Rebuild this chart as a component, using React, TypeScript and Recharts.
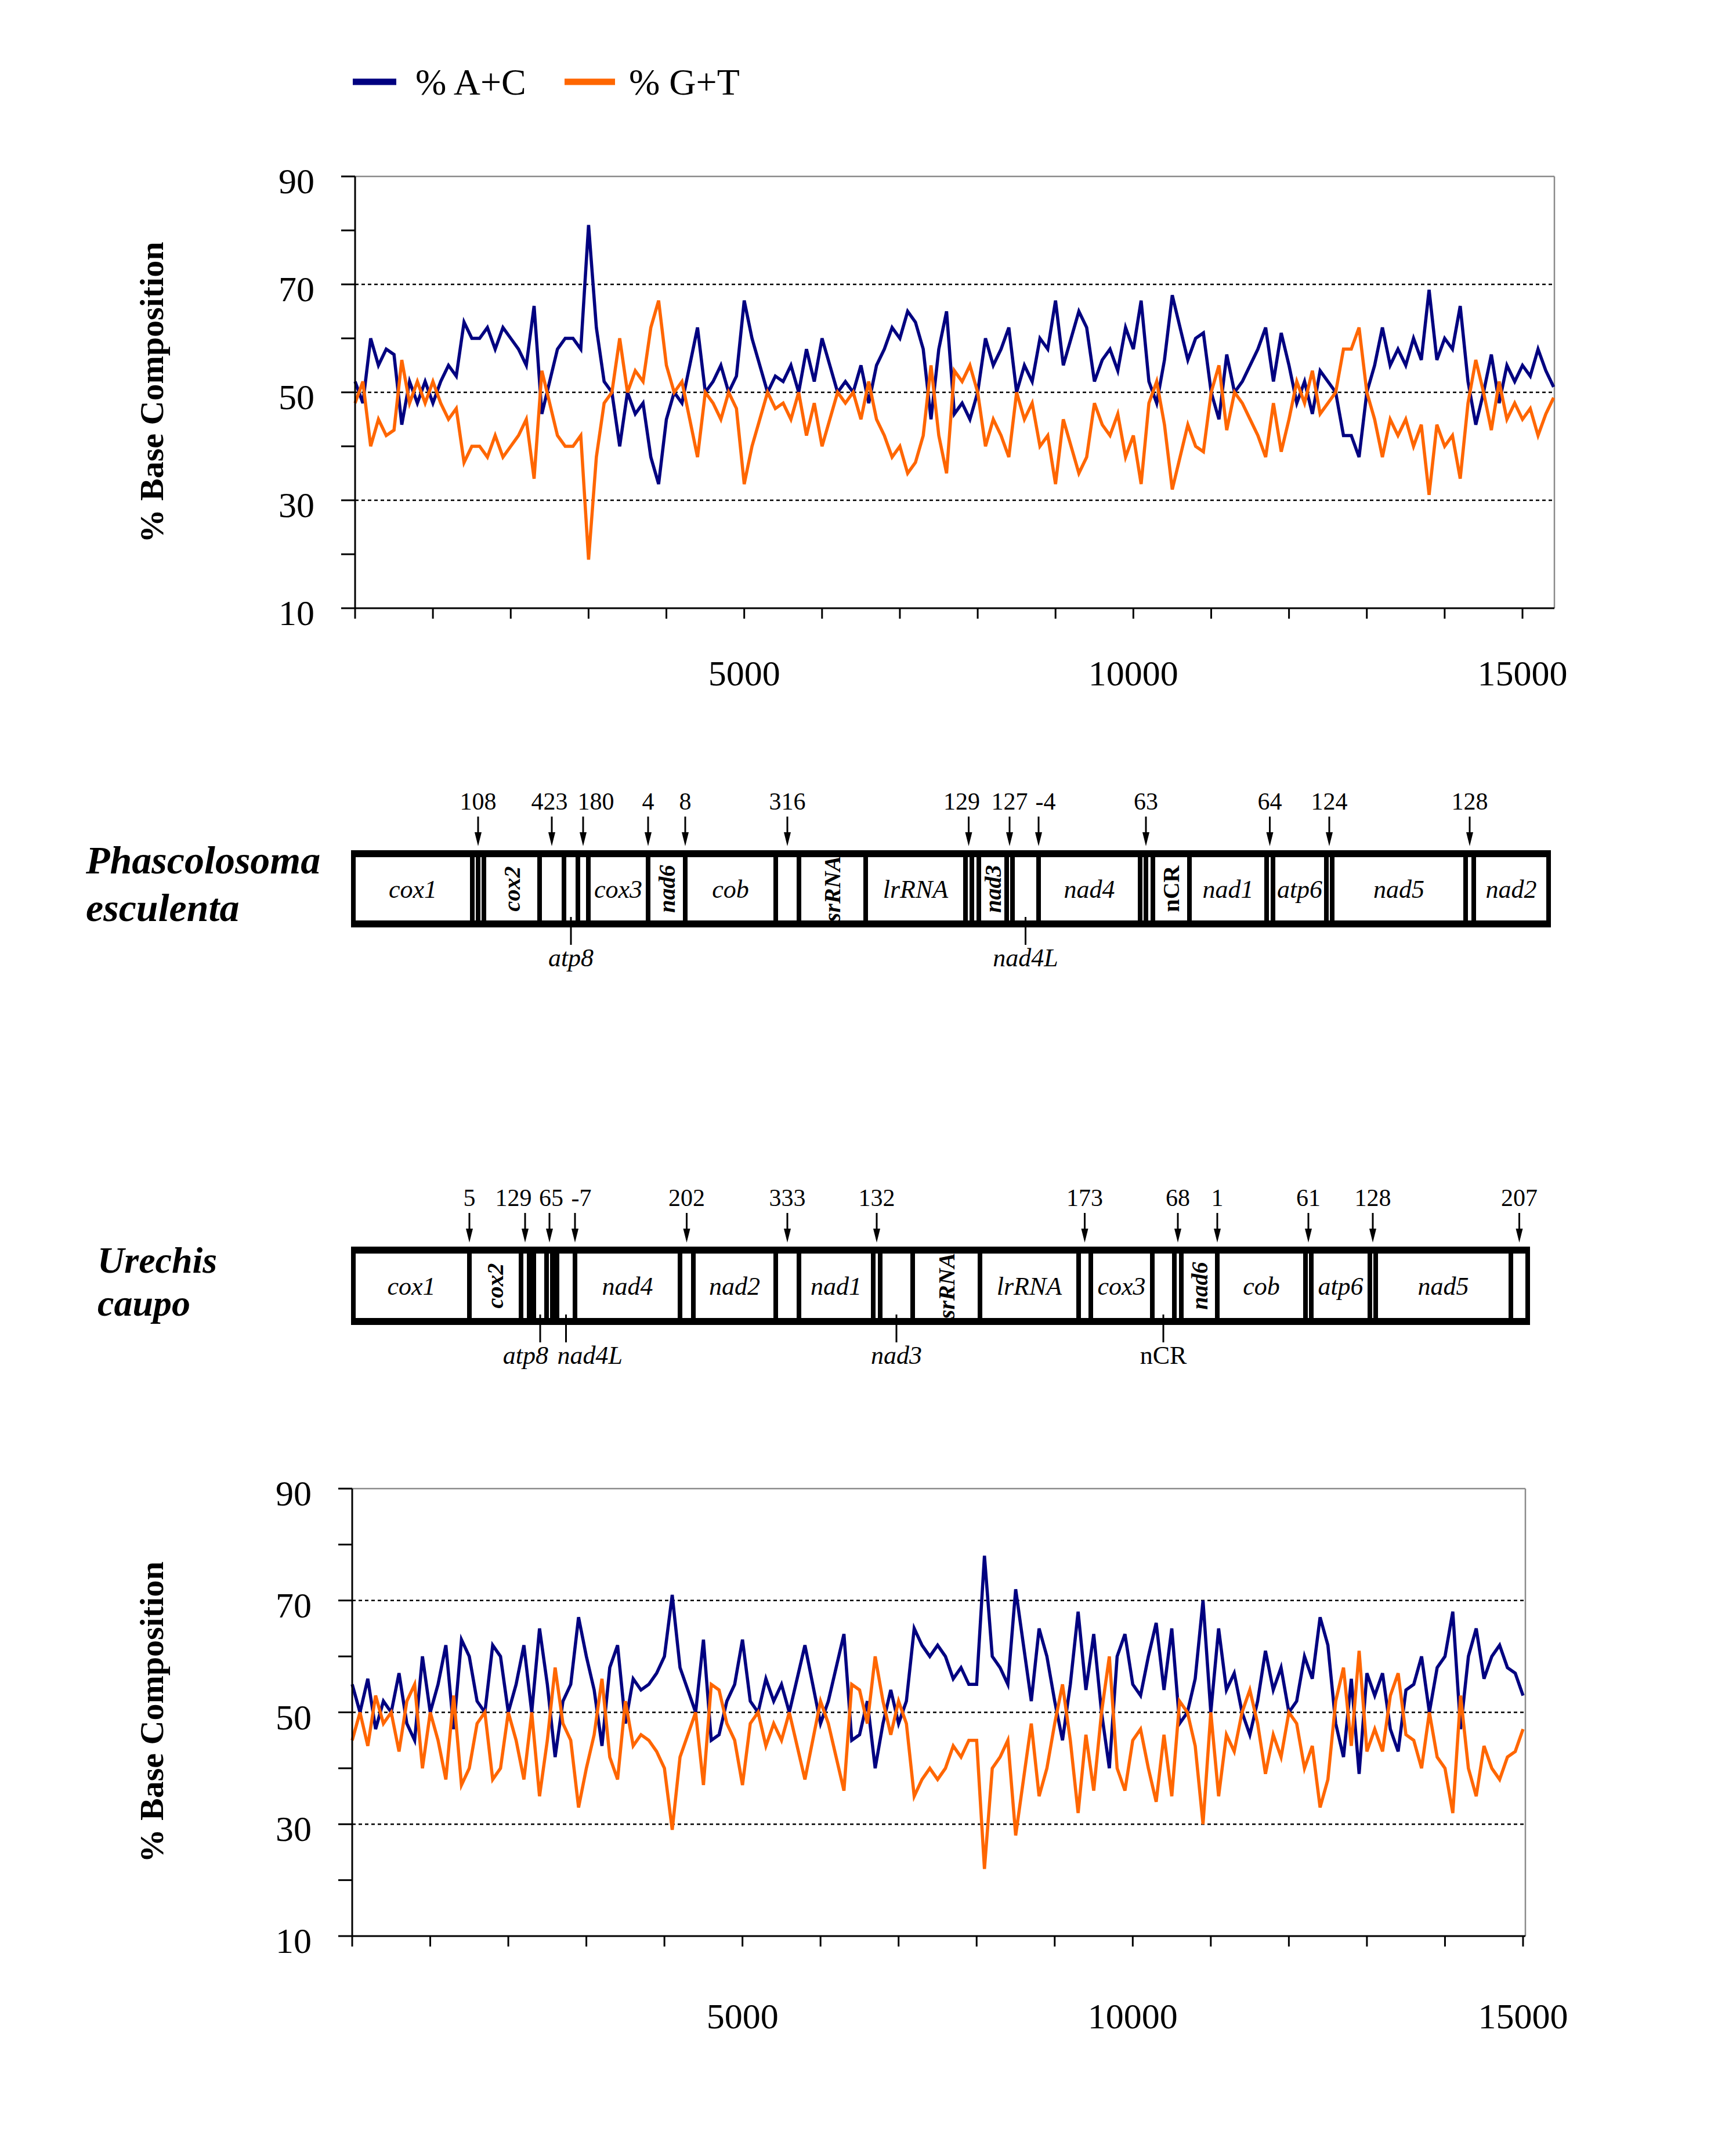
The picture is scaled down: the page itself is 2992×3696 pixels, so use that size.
import { LineChart, Line, XAxis, YAxis, ReferenceLine, BarChart, Bar } from 'recharts';

document.body.style.margin = '0';

const SERIF = "'Liberation Serif', 'Times New Roman', Times, serif";
const AC_COLOR = '#000080';
const GT_COLOR = '#ff6600';

// sliding window composition, one value every STEP bp
const STEP = 100;

// Phascolosoma esculenta (top plot)
const PE_AC = [
  52, 48, 60, 55, 58, 57, 44, 52, 48, 52,
  48, 52, 55, 53, 63, 60, 60, 62, 58, 62,
  60, 58, 55, 66, 46, 52, 58, 60, 60, 58,
  81, 62, 52, 50, 40, 50, 46, 48, 38, 33,
  45, 50, 48, 55, 62, 50, 52, 55, 50, 53,
  67, 60, 55, 50, 53, 52, 55, 50, 58, 52,
  60, 55, 50, 52, 50, 55, 48, 55, 58, 62,
  60, 65, 63, 58, 45, 58, 65, 46, 48, 45,
  50, 60, 55, 58, 62, 50, 55, 52, 60, 58,
  67, 55, 60, 65, 62, 52, 56, 58, 54, 62,
  58, 67, 52, 48, 56, 68, 62, 56, 60, 61,
  50, 45, 57, 50, 52, 55, 58, 62, 52, 61,
  55, 48, 52, 46, 54, 52, 50, 42, 42, 38,
  50, 55, 62, 55, 58, 55, 60, 56, 69, 56,
  60, 58, 66, 52, 44, 50, 57, 48, 55, 52,
  55, 53, 58, 54, 51,
];
const PE_GT = [
  48, 52, 40, 45, 42, 43, 56, 48, 52, 48,
  52, 48, 45, 47, 37, 40, 40, 38, 42, 38,
  40, 42, 45, 34, 54, 48, 42, 40, 40, 42,
  19, 38, 48, 50, 60, 50, 54, 52, 62, 67,
  55, 50, 52, 45, 38, 50, 48, 45, 50, 47,
  33, 40, 45, 50, 47, 48, 45, 50, 42, 48,
  40, 45, 50, 48, 50, 45, 52, 45, 42, 38,
  40, 35, 37, 42, 55, 42, 35, 54, 52, 55,
  50, 40, 45, 42, 38, 50, 45, 48, 40, 42,
  33, 45, 40, 35, 38, 48, 44, 42, 46, 38,
  42, 33, 48, 52, 44, 32, 38, 44, 40, 39,
  50, 55, 43, 50, 48, 45, 42, 38, 48, 39,
  45, 52, 48, 54, 46, 48, 50, 58, 58, 62,
  50, 45, 38, 45, 42, 45, 40, 44, 31, 44,
  40, 42, 34, 48, 56, 50, 43, 52, 45, 48,
  45, 47, 42, 46, 49,
];

// Urechis caupo (bottom plot)
const UC_AC = [
  55, 50, 56, 47, 52, 50, 57, 48, 45, 60,
  50, 55, 62, 47, 63, 60, 52, 50, 62, 60,
  50, 55, 62, 50, 65, 55, 42, 52, 55, 67,
  60, 54, 44, 58, 62, 48, 56, 54, 55, 57,
  60, 71, 58, 54, 50, 63, 45, 46, 52, 55,
  63, 52, 50, 56, 52, 55, 50, 56, 62, 55,
  48, 52, 58, 64, 45, 46, 52, 40, 48, 54,
  48, 52, 65, 62, 60, 62, 60, 56, 58, 55,
  55, 78, 60, 58, 55, 72, 62, 52, 65, 60,
  52, 45, 55, 68, 54, 64, 50, 40, 60, 64,
  55, 53, 60, 66, 54, 65, 48, 50, 56, 70,
  50, 65, 54, 57, 50, 46, 52, 61, 54, 58,
  50, 52, 60, 56, 67, 62, 48, 42, 56, 39,
  57, 53, 57, 47, 43, 54, 55, 60, 50, 58,
  60, 68, 47, 60, 65, 56, 60, 62, 58, 57,
  53,
];
const UC_GT = [
  45, 50, 44, 53, 48, 50, 43, 52, 55, 40,
  50, 45, 38, 53, 37, 40, 48, 50, 38, 40,
  50, 45, 38, 50, 35, 45, 58, 48, 45, 33,
  40, 46, 56, 42, 38, 52, 44, 46, 45, 43,
  40, 29, 42, 46, 50, 37, 55, 54, 48, 45,
  37, 48, 50, 44, 48, 45, 50, 44, 38, 45,
  52, 48, 42, 36, 55, 54, 48, 60, 52, 46,
  52, 48, 35, 38, 40, 38, 40, 44, 42, 45,
  45, 22, 40, 42, 45, 28, 38, 48, 35, 40,
  48, 55, 45, 32, 46, 36, 50, 60, 40, 36,
  45, 47, 40, 34, 46, 35, 52, 50, 44, 30,
  50, 35, 46, 43, 50, 54, 48, 39, 46, 42,
  50, 48, 40, 44, 33, 38, 52, 58, 44, 61,
  43, 47, 43, 53, 57, 46, 45, 40, 50, 42,
  40, 32, 53, 40, 35, 44, 40, 38, 42, 43,
  47,
];

const PE_MAX_POS = 15410;
const UC_MAX_POS = 15030;

const X_TICKS = [0, 1000, 2000, 3000, 4000, 5000, 6000, 7000, 8000, 9000, 10000, 11000, 12000, 13000, 14000, 15000];
const X_LABELS = [5000, 10000, 15000];
const Y_TICKS = [10, 20, 30, 40, 50, 60, 70, 80, 90];
const Y_LABELS = [10, 30, 50, 70, 90];
const GRID_VALUES = [30, 50, 70];

// gene order maps; t = tRNA, nc = non-coding spacer. Lengths are drawn (not to scale) widths
const PE_NAMES = ['cox1', 't1', 't2', 'cox2', 'nc1', 'atp8', 't3', 'cox3', 'nad6', 'cob', 'nc2', 'srRNA', 'lrRNA', 't4', 't5', 'nad3', 't6', 'nad4L', 'nad4', 't7', 't8', 'nCR', 'nad1', 't9', 'atp6', 't10', 'nad5', 't11', 'nad2'];
const PE_LENGTHS = [205, 10, 10, 96, 42, 24, 18, 103, 64, 156, 40, 115, 172, 11, 12, 48, 10, 45, 175, 10, 12, 63, 133, 11, 92, 10, 230, 14, 129];
const PE_SPACER_SEGS = ['t1', 'nc1', 't3', 'cox3', 'nad6', 'nc2', 't4', 't6', 'nad4L', 't7', 't9', 't10', 't11'];
const PE_SPACER_BP = ['108', '423', '180', '4', '8', '316', '129', '127', '-4', '63', '64', '124', '128'];
const PE_AT_BOUNDARY = ['t1', 'cox3', 'nad6', 'nad4L', 't7'];
const PE_BELOW = ['atp8', 'nad4L'];
const PE_ROTATED = ['cox2', 'nad6', 'srRNA', 'nad3', 'nCR'];

const UC_NAMES = ['cox1', 'cox2', 't1', 't2', 'atp8', 't3', 't4', 'nad4L', 'nad4', 'nc1', 'nad2', 'nc2', 'nad1', 't5', 'nad3', 'srRNA', 'lrRNA', 't6', 'cox3', 'nCR', 't7', 'nad6', 'cob', 't8', 'atp6', 't9', 'nad5', 't10'];
const UC_LENGTHS = [200, 89, 14, 8, 22, 10, 8, 31, 181, 23, 142, 40, 128, 12, 56, 116, 170, 21, 106, 38, 12, 62, 152, 10, 101, 10, 233, 29];
const UC_SPACER_SEGS = ['cox1', 't1', 't3', 'nad4L', 'nc1', 'nc2', 't5', 't6', 't7', 'nad6', 't8', 't9', 't10'];
const UC_SPACER_BP = ['5', '129', '65', '-7', '202', '333', '132', '173', '68', '1', '61', '128', '207'];
const UC_AT_BOUNDARY = ['cox1', 'nad4L', 'nad6'];
const UC_BELOW = ['atp8', 'nad4L', 'nad3', 'nCR'];
const UC_ROTATED = ['cox2', 'srRNA', 'nad6'];

interface GeneMapDef {
  names: string[];
  lengths: number[];
  spacerSegs: string[];
  spacerBp: string[];
  atBoundary: string[];
  below: string[];
  rotated: string[];
  belowAnchor: Record<string, 'start' | 'end'>;
  numberShift: Record<string, number>; // crowded numbers are moved sideways off their arrow
}

const PE_MAP: GeneMapDef = {
  names: PE_NAMES, lengths: PE_LENGTHS, spacerSegs: PE_SPACER_SEGS, spacerBp: PE_SPACER_BP,
  atBoundary: PE_AT_BOUNDARY, below: PE_BELOW, rotated: PE_ROTATED, belowAnchor: {},
  numberShift: { nc1: -4, t3: 22, t4: -12, nad4L: 12 },
};
const UC_MAP: GeneMapDef = {
  names: UC_NAMES, lengths: UC_LENGTHS, spacerSegs: UC_SPACER_SEGS, spacerBp: UC_SPACER_BP,
  atBoundary: UC_AT_BOUNDARY, below: UC_BELOW, rotated: UC_ROTATED, belowAnchor: { atp8: 'end', nad4L: 'start' },
  numberShift: { t1: -20, t3: 3, nad4L: 11 },
};

const buildRows = (ac: number[], gt: number[]) => ac.map((v, i) => ({ pos: i * STEP, ac: v, gt: gt[i] }));

const XTick = ({ x, y, payload, gap }: any) => {
  if (!X_LABELS.includes(payload.value)) return <g />;
  return (
    <text x={x} y={y + gap} textAnchor="middle" fontFamily={SERIF} fontSize={62} fill="#000">
      {payload.value}
    </text>
  );
};

const YTick = ({ x, y, payload }: any) => {
  if (!Y_LABELS.includes(payload.value)) return <g />;
  return (
    <text x={x} y={y} dy={29} textAnchor="end" fontFamily={SERIF} fontSize={62} fill="#000">
      {payload.value}
    </text>
  );
};

interface ChartProps {
  rows: { pos: number; ac: number; gt: number }[];
  maxPos: number;
  top: number;
  height: number;
  plotTop: number;
  plotBottom: number;
  plotLeft: number;
  plotRight: number;
  labelGap: number;
}

const X_AXIS_HEIGHT = 200;
const Y_AXIS_WIDTH = 120;

const CompositionChart = ({ rows, maxPos, top, height, plotTop, plotBottom, plotLeft, plotRight, labelGap }: ChartProps) => (
  <div style={{ position: 'absolute', left: 0, top }}>
    <LineChart
      width={2992}
      height={height}
      data={rows}
      margin={{ top: plotTop, right: 2992 - plotRight, bottom: height - plotBottom - X_AXIS_HEIGHT, left: plotLeft - Y_AXIS_WIDTH }}
    >
      <XAxis
        dataKey="pos"
        type="number"
        domain={[0, maxPos]}
        ticks={X_TICKS}
        interval={0}
        height={X_AXIS_HEIGHT}
        axisLine={{ stroke: '#000', strokeWidth: 3 }}
        tickLine={{ stroke: '#000', strokeWidth: 3 }}
        tickSize={18}
        tickMargin={2}
        tick={(p: any) => <XTick {...p} gap={labelGap} />}
      />
      <YAxis
        type="number"
        domain={[10, 90]}
        ticks={Y_TICKS}
        interval={0}
        width={Y_AXIS_WIDTH}
        axisLine={{ stroke: '#000', strokeWidth: 3 }}
        tickLine={{ stroke: '#000', strokeWidth: 3 }}
        tickSize={24}
        tickMargin={46}
        tick={YTick}
      />
      {GRID_VALUES.map(v => (
        <ReferenceLine key={v} y={v} stroke="#000" strokeWidth={2.5} strokeDasharray="6 5" />
      ))}
      <ReferenceLine y={90} stroke="#8a8a8a" strokeWidth={2.5} />
      <ReferenceLine x={maxPos} stroke="#8a8a8a" strokeWidth={2.5} />
      <Line type="linear" dataKey="ac" stroke={AC_COLOR} strokeWidth={5.5} dot={false} activeDot={false} isAnimationActive={false} />
      <Line type="linear" dataKey="gt" stroke={GT_COLOR} strokeWidth={5.5} dot={false} activeDot={false} isAnimationActive={false} />
    </LineChart>
  </div>
);

const GeneCell = (props: any) => {
  const { x, y, width: w, height: h, name, m } = props as { x: number; y: number; width: number; height: number; name: string; m: GeneMapDef };
  const cx = x + w / 2;
  const cy = y + h / 2;
  const isSpacer = /^(t|nc)\d+$/.test(name);
  const showInside = !isSpacer && !m.below.includes(name);
  const rotated = m.rotated.includes(name);
  const upright = name === 'nCR';
  const noteIdx = m.spacerSegs.indexOf(name);
  const ax = m.atBoundary.includes(name) ? x + w : cx;
  const numX = ax + (m.numberShift[name] ?? 0);
  const belowAnchor = m.belowAnchor[name];
  const belowX = belowAnchor === 'end' ? cx + 14 : belowAnchor === 'start' ? cx - 15 : cx;

  return (
    <g>
      <rect x={x} y={y} width={w} height={h} fill="#fff" />
      {showInside && rotated && (
        <text
          transform={`translate(${cx},${cy}) rotate(-90)`}
          textAnchor="middle"
          dominantBaseline="central"
          fontFamily={SERIF}
          fontSize={40}
          fontWeight="bold"
          fontStyle={upright ? 'normal' : 'italic'}
          fill="#000"
        >
          {name}
        </text>
      )}
      {showInside && !rotated && (
        <text x={cx} y={cy} dy={15} textAnchor="middle" fontFamily={SERIF} fontSize={44} fontStyle="italic" fill="#000">
          {name}
        </text>
      )}
      <rect x={x - 4} y={y} width={8} height={h} fill="#000" />
      <rect x={x + w - 4} y={y} width={8} height={h} fill="#000" />
      <rect x={x} y={y} width={w} height={12} fill="#000" />
      <rect x={x} y={y + h - 12} width={w} height={12} fill="#000" />
      {noteIdx >= 0 && (
        <g>
          <text x={numX} y={y - 70} textAnchor="middle" fontFamily={SERIF} fontSize={42} fill="#000">
            {m.spacerBp[noteIdx]}
          </text>
          <line x1={ax} x2={ax} y1={y - 58} y2={y - 26} stroke="#000" strokeWidth={3} />
          <polygon points={`${ax - 6},${y - 31} ${ax + 6},${y - 31} ${ax},${y - 7}`} fill="#000" />
        </g>
      )}
      {m.below.includes(name) && (
        <g>
          <line x1={cx} x2={cx} y1={y + h - 18} y2={y + h + 30} stroke="#000" strokeWidth={3} />
          <text
            x={belowX}
            y={y + h + 67}
            textAnchor={belowAnchor ?? 'middle'}
            fontFamily={SERIF}
            fontSize={44}
            fontStyle={upright ? 'normal' : 'italic'}
            fill="#000"
          >
            {name}
          </text>
        </g>
      )}
    </g>
  );
};

const GeneMap = ({ m, top, boxTop, boxHeight }: { m: GeneMapDef; top: number; boxTop: number; boxHeight: number }) => {
  const total = m.lengths.reduce((a, b) => a + b, 0);
  const row: Record<string, number | string> = { row: 'map' };
  m.lengths.forEach((v, i) => { row['s' + i] = v; });
  const height = 420;
  const left = 609;
  return (
    <div style={{ position: 'absolute', left: 0, top }}>
      <BarChart
        width={2992}
        height={height}
        data={[row]}
        layout="vertical"
        barCategoryGap={0}
        barGap={0}
        margin={{ top: boxTop, bottom: height - boxTop - boxHeight, left, right: 2992 - left - total }}
      >
        <XAxis type="number" hide domain={[0, total]} />
        <YAxis type="category" dataKey="row" hide />
        {m.names.map((name, i) => (
          <Bar
            key={name}
            dataKey={'s' + i}
            stackId="map"
            isAnimationActive={false}
            shape={(p: any) => <GeneCell {...p} name={name} m={m} />}
          />
        ))}
      </BarChart>
    </div>
  );
};

export default function App() {
  const peRows = buildRows(PE_AC, PE_GT);
  const ucRows = buildRows(UC_AC, UC_GT);
  const textStyle = { fontFamily: SERIF, fill: '#000' };
  return (
    <div style={{ position: 'relative', width: 2992, height: 3696, background: '#fff', overflow: 'hidden' }}>
      <CompositionChart
        rows={peRows}
        maxPos={PE_MAX_POS}
        top={0}
        height={1250}
        plotTop={304}
        plotBottom={1048}
        plotLeft={612}
        plotRight={2679}
        labelGap={113}
      />
      <GeneMap m={PE_MAP} top={1300} boxTop={165} boxHeight={133} />
      <GeneMap m={UC_MAP} top={1990} boxTop={158} boxHeight={135} />
      <CompositionChart
        rows={ucRows}
        maxPos={UC_MAX_POS}
        top={2400}
        height={1200}
        plotTop={165}
        plotBottom={936}
        plotLeft={607}
        plotRight={2629}
        labelGap={139}
      />
      <svg width={2992} height={3696} style={{ position: 'absolute', left: 0, top: 0, pointerEvents: 'none' }}>
        <line x1={608} x2={683} y1={141} y2={141} stroke={AC_COLOR} strokeWidth={11} />
        <text x={716} y={163} fontSize={64} {...textStyle}>% A+C</text>
        <line x1={973} x2={1060} y1={141} y2={141} stroke={GT_COLOR} strokeWidth={11} />
        <text x={1084} y={163} fontSize={64} {...textStyle}>% G+T</text>

        <text transform="translate(281,676) rotate(-90)" textAnchor="middle" fontSize={58} fontWeight="bold" {...textStyle}>
          % Base Composition
        </text>
        <text transform="translate(281,2950) rotate(-90)" textAnchor="middle" fontSize={58} fontWeight="bold" {...textStyle}>
          % Base Composition
        </text>

        <text x={148} y={1505} fontSize={68} fontWeight="bold" fontStyle="italic" {...textStyle}>Phascolosoma</text>
        <text x={148} y={1587} fontSize={68} fontWeight="bold" fontStyle="italic" {...textStyle}>esculenta</text>
        <text x={168} y={2193} fontSize={64} fontWeight="bold" fontStyle="italic" {...textStyle}>Urechis</text>
        <text x={168} y={2267} fontSize={64} fontWeight="bold" fontStyle="italic" {...textStyle}>caupo</text>
      </svg>
    </div>
  );
}
